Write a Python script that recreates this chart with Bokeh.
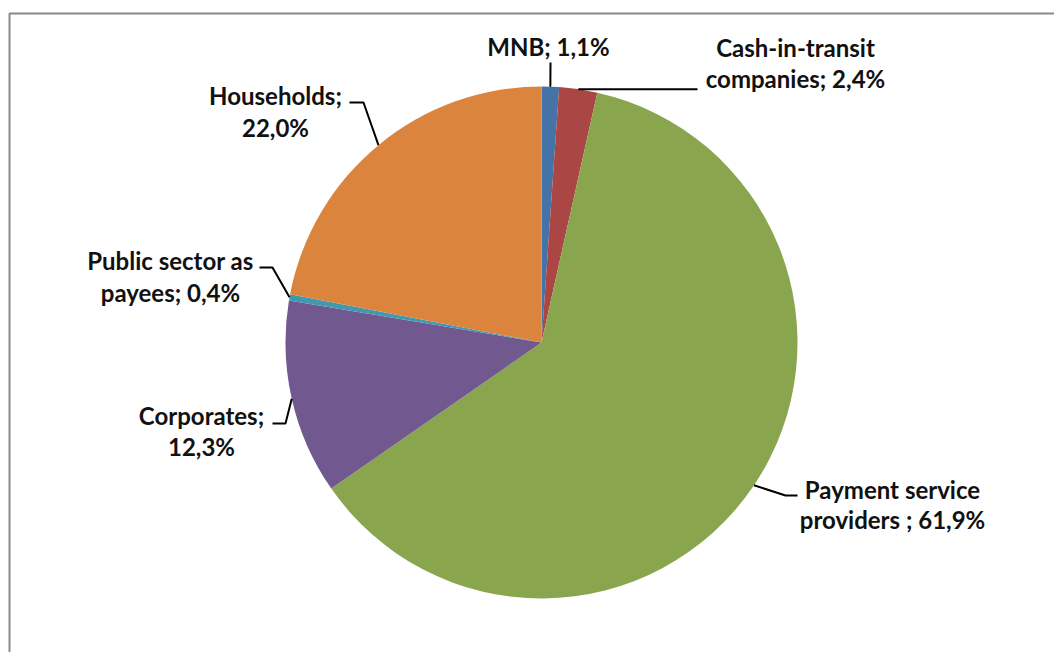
import math
from bokeh.plotting import figure
from bokeh.models import Range1d
from bokeh.core.properties import value
from bokeh.embed import file_html
from bokeh.resources import INLINE

# ---- data ----
categories = ["MNB", "Cash-in-transit companies", "Payment service providers",
              "Corporates", "Public sector as payees", "Households"]
shares = [1.1, 2.4, 61.9, 12.3, 0.4, 22.0]
colors = ["#4572A7", "#AA4643", "#89A54E", "#71588F", "#4198AF", "#DB843D"]
label_top = ["MNB; ", "Cash-in-transit", "Payment service", "Corporates;",
             "Public sector as", "Households;"]
label_bottom_prefix = ["", "companies; ", "providers ; ", "", "payees; ", ""]

def pct(v):
    return f"{v:.1f}".replace(".", ",") + "%"

# ---- layout (reference pixel coordinates) ----
W, H = 1054, 652
def X(px): return px
def Y(py): return H - py

cx, cy, R = X(541), Y(342), 256
TEXT_SHIFT = 8  # baseline correction (px upward)

# label line anchors: (center x, baseline1, baseline2)
label_pos = [(548, 54, None), (795, 55, 86), (892, 497, 527),
             (201, 423, 454), (170, 268, 300), (275, 103, 135)]
# leader elbows: list of points after the pie point
leader_pts = [[(550, 62)], [(697, None)], [(785, 495), (797, 495)],
              [(285, 423), (272, 423)], [(272, 267), (259, 267)],
              [(363, 102), (349, 102)]]

p = figure(width=W, height=H, output_backend="svg", toolbar_location=None,
           x_range=Range1d(0, W), y_range=Range1d(0, H), min_border=0)
p.axis.visible = False
p.grid.visible = False
p.outline_line_color = None
p.background_fill_color = "white"

# frame
p.line([X(9), X(9), W + 5], [-5, Y(13), Y(13)], line_color="#8a8a8a", line_width=2)

total = sum(shares)
starts, ends, mids = [], [], []
cum = 0.0
for v in shares:
    a0 = math.pi / 2 - 2 * math.pi * cum / total
    cum += v
    a1 = math.pi / 2 - 2 * math.pi * cum / total
    starts.append(a1)
    ends.append(a0)
    mids.append((a0 + a1) / 2)

p.wedge(x=[cx] * len(shares), y=[cy] * len(shares), radius=R,
        start_angle=starts, end_angle=ends, fill_color=colors,
        line_color=None)

# leaders
xs, ys = [], []
for m, pts in zip(mids, leader_pts):
    px = cx + R * math.cos(m)
    py = cy + R * math.sin(m)
    lx, ly = [px], [py]
    for (qx, qy) in pts:
        lx.append(X(qx))
        ly.append(py if qy is None else Y(qy))
    xs.append(lx)
    ys.append(ly)
p.multi_line(xs, ys, line_color="black", line_width=2)

# labels
tx, ty, tt = [], [], []
for i, v in enumerate(shares):
    x0, b1, b2 = label_pos[i]
    if b2 is None:
        tx.append(X(x0)); ty.append(Y(b1 - TEXT_SHIFT)); tt.append(label_top[i] + pct(v))
    else:
        tx.append(X(x0)); ty.append(Y(b1 - TEXT_SHIFT)); tt.append(label_top[i])
        tx.append(X(x0)); ty.append(Y(b2 - TEXT_SHIFT)); tt.append(label_bottom_prefix[i] + pct(v))
p.text(x=tx, y=ty, text=tt, text_align="center", text_baseline="alphabetic",
       text_font=value("Lato"), text_font_style="bold", text_font_size="24px",
       text_color="#111111")

open("out.html", "w").write(file_html(p, INLINE))
